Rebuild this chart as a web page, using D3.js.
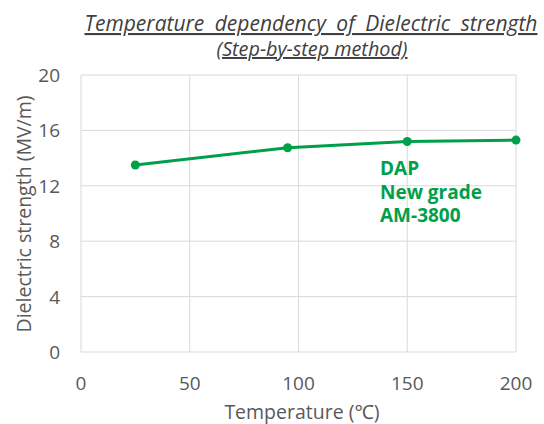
<!DOCTYPE html>
<html>
<head>
<meta charset="utf-8">
<script src="https://cdn.jsdelivr.net/npm/d3@7"></script>
<style>
  body { margin: 0; background: #fff; }
  text { font-family: "Open Sans", "Noto Sans", sans-serif; }
</style>
</head>
<body>
<div id="chart"></div>
<script>
// Data
var temps = [25, 95, 150, 200];
var strength = [13.5, 14.75, 15.2, 15.3];
var xTicks = [0, 50, 100, 150, 200];
var yTicks = [0, 4, 8, 12, 16, 20];
var noteLines = ["DAP", "New grade", "AM-3800"];

var width = 544, height = 424;
var green = "#00a04a";

var svg = d3.select("#chart").append("svg")
  .attr("width", width)
  .attr("height", height);

var x = d3.scaleLinear().domain([0, 200]).range([81, 516]);
var y = d3.scaleLinear().domain([0, 20]).range([352, 75]);

// gridlines
svg.append("g").selectAll("line.h")
  .data(yTicks)
  .enter().append("line")
  .attr("x1", x(0)).attr("x2", x(200))
  .attr("y1", d => y(d)).attr("y2", d => y(d))
  .attr("stroke", "#d9d9d9").attr("stroke-width", 1);

svg.append("g").selectAll("line.v")
  .data(xTicks)
  .enter().append("line")
  .attr("x1", d => x(d)).attr("x2", d => x(d))
  .attr("y1", y(0)).attr("y2", y(20))
  .attr("stroke", "#d9d9d9").attr("stroke-width", 1);

// tick labels
svg.append("g").selectAll("text")
  .data(yTicks)
  .enter().append("text")
  .attr("x", 60)
  .attr("y", d => y(d) + 7)
  .attr("text-anchor", "end")
  .attr("font-size", 19)
  .attr("fill", "#595959")
  .text(d => d);

svg.append("g").selectAll("text")
  .data(xTicks)
  .enter().append("text")
  .attr("x", d => x(d))
  .attr("y", 390)
  .attr("text-anchor", "middle")
  .attr("font-size", 19)
  .attr("fill", "#595959")
  .text(d => d);

// axis titles
svg.append("text")
  .attr("x", 302)
  .attr("y", 419)
  .attr("text-anchor", "middle")
  .attr("font-size", 19.5)
  .attr("fill", "#595959")
  .text("Temperature (℃)");

svg.append("text")
  .attr("transform", "translate(31,214) rotate(-90)")
  .attr("text-anchor", "middle")
  .attr("font-size", 19.5)
  .attr("fill", "#595959")
  .text("Dielectric strength (MV/m)");

// titles
svg.append("text")
  .attr("x", 311)
  .attr("y", 31)
  .attr("text-anchor", "middle")
  .attr("font-size", 21)
  .attr("font-style", "italic")
  .attr("word-spacing", 5)
  .attr("text-decoration", "underline")
  .attr("fill", "#404040")
  .text("Temperature  dependency  of Dielectric  strength");

svg.append("text")
  .attr("x", 312)
  .attr("y", 56)
  .attr("text-anchor", "middle")
  .attr("font-size", 19.8)
  .attr("font-style", "italic")
  .attr("text-decoration", "underline")
  .attr("fill", "#404040")
  .text("(Step-by-step method)");

// series
var pts = temps.map((t, i) => [t, strength[i]]);
var line = d3.line().x(d => x(d[0])).y(d => y(d[1]));

svg.append("path")
  .datum(pts)
  .attr("d", line)
  .attr("fill", "none")
  .attr("stroke", green)
  .attr("stroke-width", 3);

svg.append("g").selectAll("circle")
  .data(pts)
  .enter().append("circle")
  .attr("cx", d => x(d[0]))
  .attr("cy", d => y(d[1]))
  .attr("r", 4.5)
  .attr("fill", green);

// annotation
svg.append("g").selectAll("text")
  .data(noteLines)
  .enter().append("text")
  .attr("x", 380)
  .attr("y", (d, i) => 175 + i * 23.5)
  .attr("font-size", 19)
  .attr("font-weight", "bold")
  .attr("fill", green)
  .text(d => d);
</script>
</body>
</html>
